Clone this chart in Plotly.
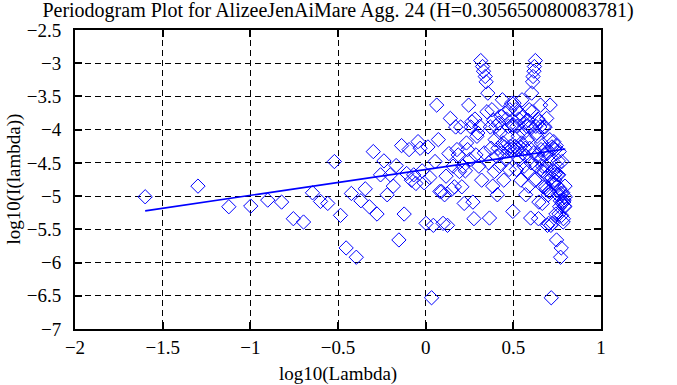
import numpy as np
import plotly.graph_objects as go

title_text = "Periodogram Plot for AlizeeJenAiMare Agg. 24 (H=0.305650080083781)"
x_title = "log10(Lambda)"
y_title = "log10(I(lambda))"
H = 0.305650080083781
n_series = 250          # series length -> Fourier frequencies 2*pi*k/n
fit_intercept = -4.60

# log10(I(lambda)) for k = 1..125 (lambda up to pi);
# the periodogram is symmetric about pi, so the k > 125 points repeat these.
log_I_half = [
    -5.01, -4.85, -5.16, -5.15, -5.06, -5.09, -5.34, -5.39, -4.95, -5.08,
    -5.11, -4.48, -5.29, -5.78, -4.96, -5.92, -5.07, -4.89, -5.16, -4.33,
    -5.27, -4.68, -4.47, -4.98, -4.68, -4.85, -4.54, -5.66, -4.24, -5.27,
    -4.66, -4.30, -4.76, -4.68, -4.81, -4.18, -4.28, -4.62, -4.80, -5.41,
    -4.26, -4.72, -6.53, -5.44, -4.48, -3.63, -4.15, -4.93, -4.93, -5.41,
    -4.98, -4.70, -5.44, -4.36, -3.83, -4.90, -4.55, -4.86, -3.96, -4.30,
    -4.38, -4.63, -3.96, -4.86, -4.55, -5.11, -4.62, -4.20, -4.30, -3.63,
    -4.45, -3.96, -3.88, -5.09, -5.34, -3.84, -4.38, -4.10, -4.05, -4.55,
    -3.95, -2.96, -4.76, -3.05, -3.12, -4.35, -3.20, -3.28, -3.73, -3.45,
    -4.50, -5.33, -3.96, -4.28, -3.70, -4.85, -3.86, -4.63, -4.15, -3.95,
    -4.40, -4.98, -4.28, -3.90, -4.55, -4.05, -3.80, -4.35, -3.55, -4.20,
    -4.76, -4.26, -3.75, -4.45, -3.84, -4.10, -4.30, -3.95, -4.60, -3.70,
    -4.25, -4.30, -3.60, -3.93, -5.23,
]

x_range = [-2, 1]
y_range = [-7, -2.5]

freq_index = np.arange(1, n_series)
log_lambda = np.log10(2 * np.pi * freq_index / n_series)
log_I = np.array(log_I_half + log_I_half[-2::-1])

slope = 1 - 2 * H
fit_x = np.array([log_lambda.min(), log_lambda.max()])
fit_y = fit_intercept + slope * fit_x

fig = go.Figure()
fig.add_trace(go.Scatter(
    x=log_lambda, y=log_I, mode="markers",
    marker=dict(symbol="diamond-open", size=11, color="#0000ff",
                line=dict(color="#0000ff", width=1)),
    hoverinfo="x+y",
))
fig.add_trace(go.Scatter(
    x=fit_x, y=fit_y, mode="lines",
    line=dict(color="#0000ff", width=1.6),
))

font_family = "'Liberation Serif', 'Times New Roman', Times, serif"
fsize = 19
axis_common = dict(
    showgrid=True, gridcolor="black", gridwidth=1, griddash="6px,4px",
    showline=True, linecolor="black", linewidth=2, mirror="ticks",
    ticks="inside", ticklen=7, tickwidth=1.5, tickcolor="black",
    zeroline=False, automargin=False,
    tickfont=dict(family=font_family, size=fsize, color="black"),
)

fig.update_layout(
    width=677, height=385, autosize=False,
    margin=dict(l=75, r=76, t=30, b=56),
    paper_bgcolor="white", plot_bgcolor="white",
    showlegend=False,
    font=dict(family=font_family, size=fsize, color="black"),
    title=dict(text=title_text, x=0.5, xref="paper", xanchor="center",
               y=1 - 10 / 385, yref="container", yanchor="middle",
               font=dict(family=font_family, size=20, color="black")),
    xaxis=dict(range=x_range, tick0=-2, dtick=0.5, ticklabelstandoff=0,
               **axis_common),
    yaxis=dict(range=y_range, tick0=-7, dtick=0.5, ticklabelstandoff=8,
               **axis_common),
    annotations=[
        dict(text=x_title, xref="paper", yref="paper", x=0.5, y=-45 / 299,
             xanchor="center", yanchor="middle", showarrow=False,
             font=dict(family=font_family, size=fsize, color="black")),
        dict(text=y_title, xref="paper", yref="paper", x=-62 / 526, y=0.5,
             xanchor="center", yanchor="middle", textangle=-90,
             showarrow=False,
             font=dict(family=font_family, size=fsize, color="black")),
    ],
)

fig.write_html(
    "out.html",
    config={"displayModeBar": False},
    post_script="document.body.style.margin='0px';document.body.style.overflow='hidden';",
)
